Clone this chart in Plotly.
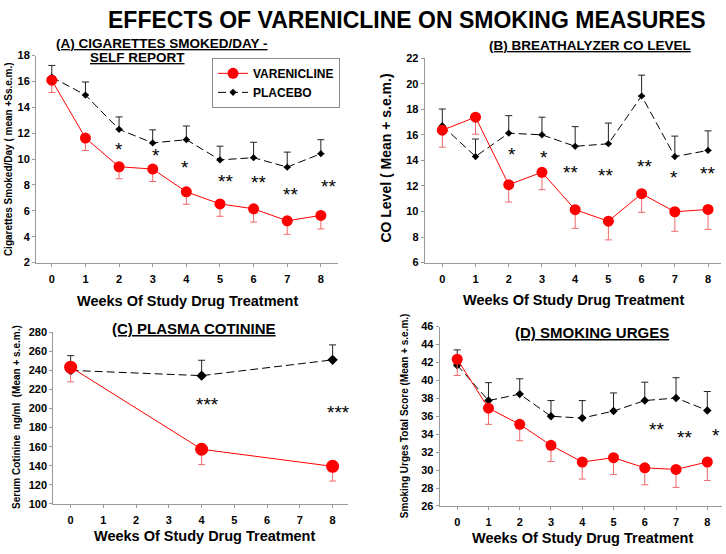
import plotly.graph_objects as go

W, H = 726, 554
FONT = "Liberation Sans, Arial, sans-serif"

# ---------------- data ----------------
weeks = [0, 1, 2, 3, 4, 5, 6, 7, 8]
weeks_c = [0, 4, 8]
tick_weeks = [0, 1, 2, 3, 4, 5, 6, 7, 8]

# (A) cigarettes smoked/day
a_var = [16.1, 11.63, 9.41, 9.23, 7.47, 6.54, 6.16, 5.23, 5.65]
a_var_sem = [0.95, 0.96, 0.93, 0.96, 0.96, 0.96, 1.03, 1.04, 1.05]
a_pla = [16.34, 14.95, 12.3, 11.25, 11.5, 9.94, 10.11, 9.38, 10.42]
a_pla_sem = [0.9, 1.01, 0.96, 1.01, 1.06, 1.06, 1.19, 1.16, 1.08]
a_sig_x = [2.0, 3.1, 3.97, 5.15, 6.15, 7.1, 8.24]
a_sig_y = [10.7, 10.24, 9.3, 8.2, 8.15, 7.2, 7.8]
a_sig_t = ["*", "*", "*", "**", "**", "**", "**"]

# (B) breathalyzer CO level
b_var = [16.36, 17.38, 12.1, 13.07, 10.14, 9.24, 11.39, 9.98, 10.16]
b_var_sem = [1.33, 1.33, 1.36, 1.36, 1.46, 1.46, 1.46, 1.53, 1.56]
b_pla = [16.72, 14.3, 16.13, 16.0, 15.1, 15.3, 19.04, 14.3, 14.78]
b_pla_sem = [1.3, 1.37, 1.37, 1.38, 1.54, 1.62, 1.63, 1.6, 1.53]
b_sig_x = [2.1, 3.05, 3.86, 4.92, 6.1, 6.98, 7.97]
b_sig_y = [14.35, 14.14, 13.0, 12.7, 13.45, 12.56, 12.9]
b_sig_t = ["*", "*", "**", "**", "**", "*", "**"]

# (C) plasma cotinine
c_var = [243.3, 157.3, 139.4]
c_var_sem = [15.4, 16.1, 15.4]
c_pla = [239.9, 234.4, 250.9]
c_pla_sem = [15.4, 16.1, 15.7]
c_sig_x = [4.17, 8.17]
c_sig_y = [203.6, 194.3]
c_sig_t = ["***", "***"]

# (D) smoking urges
d_var = [42.36, 36.9, 35.1, 32.76, 30.9, 31.38, 30.25, 30.07, 30.9]
d_var_sem = [1.81, 1.8, 1.83, 1.81, 1.9, 1.88, 1.89, 2.0, 2.06]
d_pla = [41.7, 37.75, 38.47, 36.0, 35.8, 36.58, 37.75, 38.04, 36.65]
d_pla_sem = [1.7, 2.0, 1.71, 1.75, 1.95, 2.02, 2.05, 2.26, 2.11]
d_sig_x = [6.37, 7.27, 8.27]
d_sig_y = [34.4, 33.5, 33.75]
d_sig_t = ["**", "**", "*"]

RED = "#ff0000"
RED_ERR = "#ee6a6a"
BLK = "#000000"
BLK_ERR = "#222222"


def px(x):
    return x / W


def py(y):
    return 1 - y / H


fig = go.Figure()

panels = [
    ("", weeks, a_var, a_var_sem, a_pla, a_pla_sem, 11, 5.5),
    ("2", weeks, b_var, b_var_sem, b_pla, b_pla_sem, 11, 5.5),
    ("3", weeks_c, c_var, c_var_sem, c_pla, c_pla_sem, 13, 8),
    ("4", weeks, d_var, d_var_sem, d_pla, d_pla_sem, 11, 6.5),
]

for i, (ax, xs, v, vs, p, ps, rsz, dsz) in enumerate(panels):
    first = i == 0
    fig.add_trace(go.Scatter(
        x=xs, y=p, mode="lines+markers", name="PLACEBO",
        xaxis="x" + ax, yaxis="y" + ax, showlegend=first, legendrank=2,
        line=dict(color=BLK, width=1, dash="8px,4px"),
        marker=dict(symbol="diamond", size=dsz, color=BLK),
        error_y=dict(type="data", symmetric=False, array=ps,
                     arrayminus=[0] * len(ps), color=BLK_ERR,
                     thickness=1, width=3.5),
    ))
    fig.add_trace(go.Scatter(
        x=xs, y=v, mode="lines+markers", name="VARENICLINE",
        xaxis="x" + ax, yaxis="y" + ax, showlegend=first, legendrank=1,
        line=dict(color=RED, width=1),
        marker=dict(symbol="circle", size=rsz, color=RED),
        error_y=dict(type="data", symmetric=False, array=[0] * len(vs),
                     arrayminus=vs, color=RED_ERR,
                     thickness=1, width=3.5),
    ))

# axis geometry in pixels
geo = {
    "": dict(x0=36, x1=338, y0=262.3, y1=50.7, xr=[-0.47, 8.51], yr=[2, 18], dy=2),
    "2": dict(x0=424.7, x1=721, y0=262.3, y1=53.3, xr=[-0.53, 8.39], yr=[6, 22], dy=2),
    "3": dict(x0=53.3, x1=348, y0=509, y1=333.3, xr=[-0.53, 8.47], yr=[100, 280], dy=20),
    "4": dict(x0=439.7, x1=722, y0=511, y1=327.7, xr=[-0.56, 8.47], yr=[26, 46], dy=2),
}

tickfont = dict(family=FONT, size=11, color="#000", weight="bold")
layout_axes = {}
for ax, g in geo.items():
    layout_axes["xaxis" + ax] = dict(
        domain=[px(g["x0"]), px(g["x1"])], range=g["xr"], anchor="y" + ax,
        tickvals=tick_weeks, ticktext=[str(t) for t in tick_weeks],
        showline=True, linecolor="#9a9a9a", linewidth=1,
        ticks="outside", ticklen=3, tickcolor="#9a9a9a",
        showgrid=False, zeroline=False, tickfont=tickfont,
        ticklabelstandoff=3, fixedrange=True,
    )
    layout_axes["yaxis" + ax] = dict(
        domain=[py(g["y0"]), py(g["y1"])], range=g["yr"], anchor="x" + ax,
        dtick=g["dy"], tick0=g["yr"][0],
        showline=True, linecolor="#9a9a9a", linewidth=1,
        ticks="outside", ticklen=3, tickcolor="#9a9a9a",
        showgrid=False, zeroline=False, tickfont=tickfont,
        fixedrange=True,
    )

ann = []


def text(x, y, s, size, weight="bold", angle=0, xanchor="center"):
    ann.append(dict(
        x=px(x), y=py(y), xref="paper", yref="paper", text=s,
        showarrow=False, textangle=angle, xanchor=xanchor, yanchor="middle",
        font=dict(family=FONT, size=size, color="#000", weight=weight),
    ))


# main title
text(407, 14, "EFFECTS OF VARENICLINE ON SMOKING MEASURES", 23)

# panel titles
text(162, 38, "<u>(A) CIGARETTES SMOKED/DAY -</u>", 13.5)
text(137, 53, "<u>SELF REPORT</u>", 13.5)
text(590, 40, "<u>(B) BREATHALYZER CO LEVEL</u>", 13.5)
text(194, 330, "<u>(C) PLASMA COTININE</u>", 15)
text(592, 334, "<u>(D) SMOKING URGES</u>", 15)

# x axis titles
xt = "Weeks Of Study Drug Treatment"
text(187, 302, xt, 14.5)
text(573.5, 300.5, xt, 14.5)
text(204, 542, xt, 14.5)
text(582, 543.5, xt, 14.5)

# y axis titles
text(8.5, 157, "Cigarettes Smoked/Day ( mean +Ss.e.m.)", 10, angle=-90)
text(386, 156, "CO Level ( Mean + s.e.m.)", 14, angle=-90)
text(17, 420, "Serum Cotinine  ng/ml  (Mean + s.e.m.)", 10, angle=-90)
text(404.7, 418.5, "Smoking Urges Total Score (Mean + s.e.m.)", 10, angle=-90)

# significance marks (data coordinates)
for ax, xs, ys, ts in [("", a_sig_x, a_sig_y, a_sig_t),
                       ("2", b_sig_x, b_sig_y, b_sig_t),
                       ("3", c_sig_x, c_sig_y, c_sig_t),
                       ("4", d_sig_x, d_sig_y, d_sig_t)]:
    for x, y, t in zip(xs, ys, ts):
        ann.append(dict(
            x=x, y=y, xref="x" + ax, yref="y" + ax, text=t, showarrow=False,
            xanchor="center", yanchor="middle", yshift=1,
            font=dict(family=FONT, size=19, color="#000"),
        ))

fig.update_layout(
    width=W, height=H, margin=dict(l=0, r=0, t=0, b=0),
    paper_bgcolor="white", plot_bgcolor="white",
    showlegend=True,
    legend=dict(
        x=px(212), y=py(53), xanchor="left", yanchor="top",
        bgcolor="white", bordercolor="#8a8a8a", borderwidth=1,
        font=dict(family=FONT, size=12, color="#000", weight="bold"),
        tracegroupgap=0, itemsizing="trace",
    ),
    annotations=ann,
    **layout_axes,
)

fig.write_html(
    "out.html",
    config={"displayModeBar": False},
    post_script="document.body.style.margin='0';document.body.style.padding='0';",
)
